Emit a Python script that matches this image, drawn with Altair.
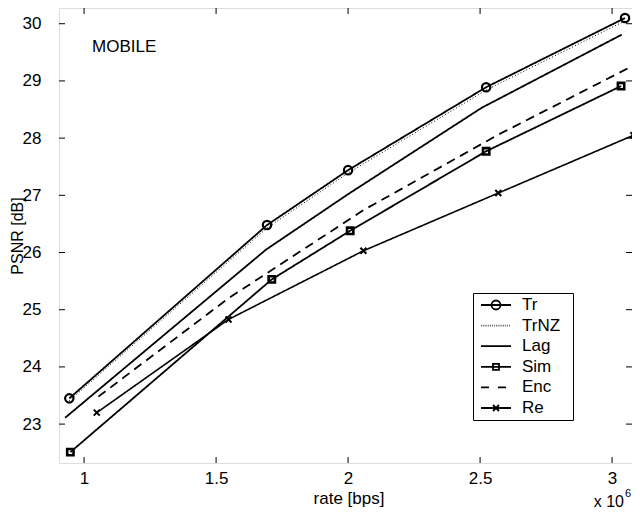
import altair as alt
import pandas as pd

# ---- data ----
series = ["Tr", "TrNZ", "Lag", "Sim", "Enc", "Re"]
tr_rate = [0.944, 1.693, 2.000, 2.523, 3.049]
tr_psnr = [23.45, 26.48, 27.44, 28.89, 30.10]
trnz_rate = [0.944, 1.693, 2.000, 2.523, 3.049]
trnz_psnr = [23.41, 26.43, 27.39, 28.84, 30.05]
lag_rate = [0.928, 1.689, 2.000, 2.506, 3.037]
lag_psnr = [23.11, 26.05, 27.02, 28.53, 29.81]
sim_rate = [0.948, 1.711, 2.008, 2.523, 3.034]
sim_psnr = [22.51, 25.53, 26.38, 27.77, 28.91]
enc_rate = [1.054, 1.547, 2.058, 2.569, 3.098]
enc_psnr = [23.48, 25.20, 26.74, 28.06, 29.31]
re_rate = [1.048, 1.547, 2.058, 2.569, 3.081]
re_psnr = [23.20, 24.83, 26.03, 27.04, 28.05]

x_ticks = [1, 1.5, 2, 2.5, 3]
y_ticks = [23, 24, 25, 26, 27, 28, 29, 30]
dataset_label = "MOBILE"
x_title = "rate [bps]"
y_title = "PSNR [dB]"
x_exp_base = "x 10"
x_exp_pow = "6"

rates = [tr_rate, trnz_rate, lag_rate, sim_rate, enc_rate, re_rate]
psnrs = [tr_psnr, trnz_psnr, lag_psnr, sim_psnr, enc_psnr, re_psnr]
rows = []
for s, rr, pp in zip(series, rates, psnrs):
    for i, (r, p) in enumerate(zip(rr, pp)):
        rows.append({"series": s, "rate": r, "psnr": p, "order": i})
df = pd.DataFrame(rows)

FONT = "Liberation Sans"
FS = 17
W, H = 573, 455
xs = alt.Scale(domain=[0.905, 0.905 + W / 264.0], nice=False, zero=False)
ys = alt.Scale(domain=[22.32, 30.275], nice=False, zero=False)

x_axis = alt.Axis(values=x_ticks, format="~g", title=x_title, ticks=False, tickSize=0,
                  domain=False, grid=False, labelPadding=7, labelFont=FONT,
                  labelFontSize=FS, labelColor="black", titleFont=FONT,
                  titleFontSize=FS, titleFontWeight="normal", titleColor="black",
                  titleX=289.5, titleY=35, titleBaseline="middle")
y_axis = alt.Axis(values=y_ticks, format="d", title=y_title, ticks=False, tickSize=0,
                  domain=False, grid=False, labelPadding=18, labelFont=FONT,
                  labelFontSize=FS, labelColor="black", titleFont=FONT,
                  titleFontSize=16, titleFontWeight="normal", titleColor="black",
                  titleX=-42, titleY=H / 2, titleAngle=-90, titleAlign="center",
                  titleBaseline="middle")
X = alt.X("rate:Q", scale=xs, axis=x_axis)
Y = alt.Y("psnr:Q", scale=ys, axis=y_axis)

base = alt.Chart(df)


def line_layer(names, dash, sw):
    return base.transform_filter(alt.FieldOneOfPredicate(field="series", oneOf=names)).mark_line(
        color="black", strokeCap="butt", strokeDash=dash, strokeWidth=sw, clip=True
    ).encode(x=X, y=Y, detail="series:N", order="order:Q")


solid = line_layer(["Tr", "Lag", "Sim"], [1, 0], 1.8)
solid_re = line_layer(["Re"], [1, 0], 1.6)
dotted = line_layer(["TrNZ"], [1, 2.2], 1.0)
dashed = line_layer(["Enc"], [9, 6], 1.8)


def markers(name, shape, size, sw):
    return base.transform_filter(alt.datum.series == name).mark_point(
        shape=shape, size=size, strokeWidth=sw, color="black", filled=False, opacity=1
    ).encode(x=X, y=Y)


m_tr = markers("Tr", "circle", 70, 2.2)
m_sim = markers("Sim", "square", 40, 2.6)
m_re = markers("Re", "M-1,-1L1,1M-1,1L1,-1", 36, 2)

# legend symbols (line + marker) as custom paths
dots = "".join(f"M{-1 + k * 0.125:.3f},0L{-1 + k * 0.125 + 0.04:.3f},0" for k in range(16))
legend_paths = [
    "M-1,0L1,0M0.3,0A0.3,0.3 0 1,1 -0.3,0A0.3,0.3 0 1,1 0.3,0",
    dots,
    "M-1,0L1,0",
    "M-1,0L1,0M-0.2,-0.2L0.2,-0.2L0.2,0.2L-0.2,0.2Z",
    "M-1,0L-0.47,0M0.13,0L0.67,0",
    "M-1,0L1,0M-0.2,-0.2L0.2,0.2M-0.2,0.2L0.2,-0.2",
]
carrier = base.mark_point(opacity=0, color="black", filled=False).encode(
    x=X, y=Y,
    shape=alt.Shape("series:N", scale=alt.Scale(domain=series, range=legend_paths),
                    legend=alt.Legend(orient="none", legendX=414, legendY=285,
                                      title=".", titleOrient="right", titleOpacity=0,
                                      titlePadding=5, titleFontSize=FS,
                                      symbolSize=900, symbolStrokeWidth=1.8,
                                      symbolStrokeColor="black", symbolOpacity=1,
                                      symbolOffset=4, clipHeight=18, rowPadding=2.6,
                                      padding=3, labelOffset=10, labelFont=FONT,
                                      labelFontSize=FS, labelColor="black",
                                      strokeColor="black", fillColor="white")),
)

# inward tick marks on all four sides
xt = alt.Chart(pd.DataFrame({"rate": x_ticks}))
yt = alt.Chart(pd.DataFrame({"psnr": y_ticks}))
tick_x_bot = xt.mark_rule(color="black", strokeWidth=1).encode(
    x=X, y=alt.value(H), y2=alt.value(H - 6))
tick_x_top = xt.mark_rule(color="black", strokeWidth=1).encode(
    x=X, y=alt.value(0), y2=alt.value(6))
tick_y_l = yt.mark_rule(color="black", strokeWidth=1).encode(
    y=Y, x=alt.value(0), x2=alt.value(6))
tick_y_r = yt.mark_rule(color="black", strokeWidth=1).encode(
    y=Y, x=alt.value(W), x2=alt.value(W - 6))

label_df = pd.DataFrame({"label": [dataset_label], "base": [x_exp_base], "pow": [x_exp_pow]})
lab = alt.Chart(label_df)
mobile = lab.mark_text(align="left", baseline="alphabetic", font=FONT, fontSize=FS, color="black").encode(
    text="label:N", x=alt.value(33), y=alt.value(44))
exp_base = lab.mark_text(align="right", baseline="alphabetic", font=FONT, fontSize=16, color="black").encode(
    text="base:N", x=alt.value(565), y=alt.value(499))
exp_pow = lab.mark_text(align="left", baseline="alphabetic", font=FONT, fontSize=11, color="black").encode(
    text="pow:N", x=alt.value(566), y=alt.value(489))

chart = alt.layer(
    solid, solid_re, dotted, dashed, m_tr, m_sim, m_re, carrier,
    tick_x_bot, tick_x_top, tick_y_l, tick_y_r,
    mobile, exp_base, exp_pow,
).properties(
    width=W, height=H,
    autosize=alt.AutoSizeParams(type="none"),
    padding={"left": 51, "top": 0, "right": 0, "bottom": 46},
).configure_view(stroke="black", strokeWidth=1.2).configure(background="white")

chart.save("out.html", embed_options={"renderer": "svg", "actions": False})
